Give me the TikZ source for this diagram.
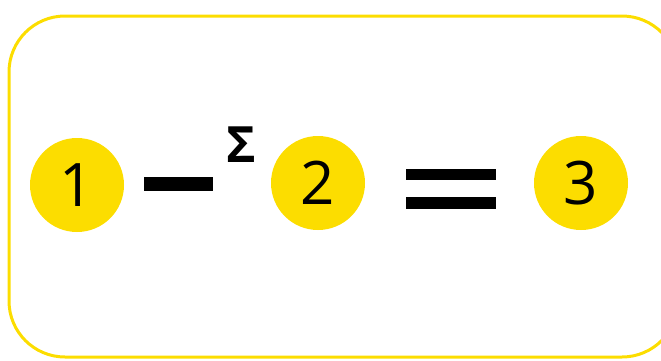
\documentclass[tikz,border=0pt]{standalone}
\usepackage{fontspec}
\setmainfont{Open Sans}
\definecolor{ylw}{HTML}{FCDD00}
\begin{document}
\begin{tikzpicture}[x=1pt,y=-1pt,
  numc/.style={circle,fill=ylw,minimum size=94pt,inner sep=0pt,font=\fontsize{60}{62}\selectfont},
  bar/.style={fill=black}]
\useasboundingbox (0,0) rectangle (661,360);
\draw[ylw,line width=3pt,rounded corners=56pt] (9,16) rectangle (678,357);
\node[numc] (n1) at (77,185) {1};
\node[numc] (n2) at (318,183) {2};
\node[numc] (n3) at (581,183) {3};
\fill[bar] (144,177) rectangle (213,191);
\node[font=\fontsize{50}{52}\selectfont\bfseries,inner sep=0pt,anchor=north] (sig) at (241.5,127) {Σ};
\fill[bar] (406,169) rectangle (496,180);
\fill[bar] (406,197) rectangle (496,209);
\end{tikzpicture}
\end{document}
